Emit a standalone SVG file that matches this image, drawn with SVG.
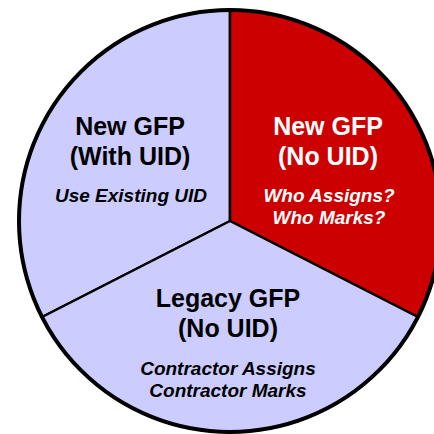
<svg xmlns="http://www.w3.org/2000/svg" width="434" height="434" viewBox="0 0 434 434">
<style>
.seg{stroke:#000;stroke-width:2.5;stroke-linejoin:round}
.lav{fill:#CCCCFF}
.red{fill:#CC0000}
.t{font-family:"Liberation Sans",Arial,sans-serif;font-weight:bold;text-anchor:middle}
.h{font-size:25px}
.s{font-size:19px;font-style:italic}
.dk{fill:#000}
.wh{fill:#fff}
</style>
<rect width="434" height="434" fill="#fff"/>
<g id="new-gfp-with-uid">
<path class="seg lav" d="M230,221 L42.1,317 A211,211 0 0 1 230,10 Z"/>
<text class="t h dk" x="130" y="135">New GFP</text>
<text class="t h dk" x="130" y="165">(With UID)</text>
<text class="t s dk" x="131" y="202">Use Existing UID</text>
</g>
<g id="new-gfp-no-uid">
<path class="seg red" d="M230,221 L230,10 A211,211 0 0 1 417.9,317 Z"/>
<text class="t h wh" x="328" y="135">New GFP</text>
<text class="t h wh" x="328" y="165">(No UID)</text>
<text class="t s wh" x="329" y="202">Who Assigns?</text>
<text class="t s wh" x="329" y="224">Who Marks?</text>
</g>
<g id="legacy-gfp">
<path class="seg lav" d="M230,221 L417.9,317 A211,211 0 0 1 42.1,317 Z"/>
<text class="t h dk" x="228" y="307">Legacy GFP</text>
<text class="t h dk" x="228" y="337">(No UID)</text>
<text class="t s dk" x="228" y="375">Contractor Assigns</text>
<text class="t s dk" x="228" y="397">Contractor Marks</text>
</g>
<g id="connectors">
<circle cx="230" cy="221" r="211" fill="none" stroke="#000" stroke-width="4"/>
</g>
</svg>
